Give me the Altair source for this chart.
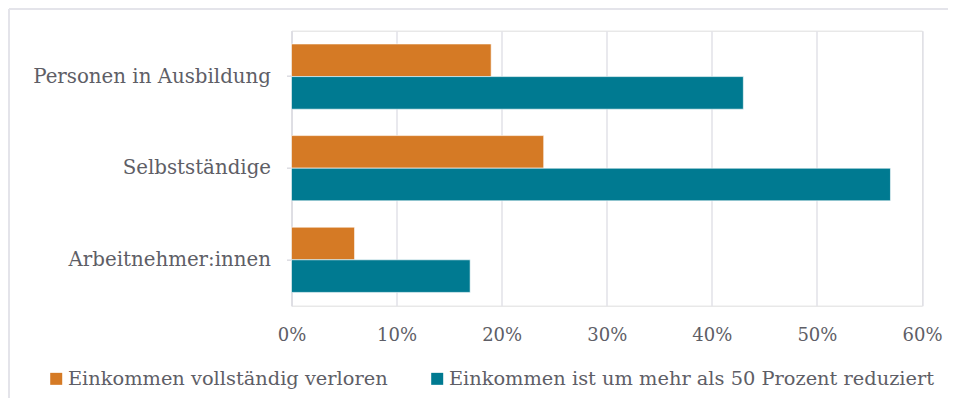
import altair as alt
import pandas as pd

categories = ["Personen in Ausbildung", "Selbstständige", "Arbeitnehmer:innen"]
series = ["Einkommen vollständig verloren", "Einkommen ist um mehr als 50 Prozent reduziert"]
lost_fully = [19, 24, 6]
reduced_50 = [43, 57, 17]
x_ticks = [0, 10, 20, 30, 40, 50, 60]
colors = ["#D57A25", "#007A91"]

rows = []
for c, a, b in zip(categories, lost_fully, reduced_50):
    rows.append({"Gruppe": c, "Serie": series[0], "Wert": a})
    rows.append({"Gruppe": c, "Serie": series[1], "Wert": b})
df = pd.DataFrame(rows)

FONT = "Roboto Slab, DejaVu Serif, serif"
TXT = "#5e5e66"
FRAME = "#e4e4ea"

bars = alt.Chart(df).mark_bar(stroke="white", strokeWidth=0.6).encode(
    y=alt.Y("Gruppe:N", sort=categories, title=None,
            scale=alt.Scale(paddingInner=0.288, paddingOuter=0.145),
            axis=alt.Axis(domain=True, domainColor="#dcdce2", domainWidth=1.5,
                          ticks=True, tickColor="#dcdce2", tickSize=5, tickWidth=1.5,
                          labelPadding=16, labelFontSize=19.8, labelColor=TXT,
                          labelFont=FONT, labelLimit=400, grid=False)),
    yOffset=alt.YOffset("Serie:N", sort=series),
    x=alt.X("Wert:Q", title=None,
            scale=alt.Scale(domain=[0, 60], nice=False),
            axis=alt.Axis(values=x_ticks, labelExpr="datum.value + '%'",
                          domain=False, ticks=False, grid=True,
                          gridColor="#e2e2e8", gridWidth=1.5, labelFlush=False,
                          labelPadding=21, labelFontSize=18, labelColor=TXT,
                          labelFont=FONT)),
    color=alt.Color("Serie:N", sort=series, title=None,
                    scale=alt.Scale(domain=series, range=colors),
                    legend=alt.Legend(orient="none", direction="horizontal",
                                      legendX=-245, legendY=338,
                                      symbolType="square", symbolSize=144,
                                      symbolStrokeWidth=0, labelOffset=2,
                                      columnPadding=39, labelFontSize=19.4,
                                      labelColor=TXT, labelFont=FONT,
                                      labelLimit=600, padding=0)),
)

frame_top = alt.Chart(alt.Data(values=[{}])).mark_rule(
    stroke=FRAME, strokeWidth=2
).encode(x=alt.value(-282.5), x2=alt.value(800), y=alt.value(-21.7))

frame_left = alt.Chart(alt.Data(values=[{}])).mark_rule(
    stroke=FRAME, strokeWidth=2
).encode(x=alt.value(-282.5), y=alt.value(-21.7), y2=alt.value(420))

chart = alt.layer(frame_top, frame_left, bars).properties(
    width=630.5, height=275,
    padding={"left": 283.5, "top": 22.7, "right": 26, "bottom": 92},
    autosize=alt.AutoSizeParams(type="none"),
).configure_view(stroke=None).configure(background="white")

chart.save("out.html", embed_options={"renderer": "svg", "actions": False})
